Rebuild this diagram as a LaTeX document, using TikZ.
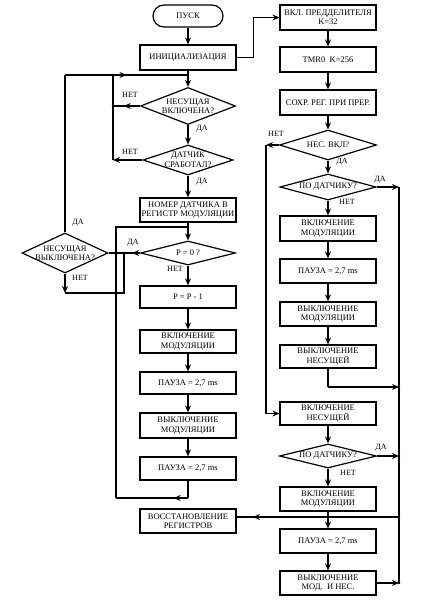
\documentclass[tikz,border=0pt]{standalone}
\usepackage{fontspec}
\setmainfont{Liberation Serif}
\usetikzlibrary{shapes.geometric,arrows.meta,decorations.markings}
\begin{document}
\begin{tikzpicture}[x=1pt,y=-1pt,
  font=\fontsize{8.5}{9.5}\selectfont,
  line width=1.2pt,
  box/.style={draw, minimum width=96pt, minimum height=24pt, align=center, inner sep=1pt},
  dia/.style={draw, diamond, inner sep=0pt},
  term/.style={draw, rounded corners=11pt, minimum width=70pt, minimum height=22pt},
  arr/.style={-{Stealth[length=7pt,width=6pt]}},
  midarr/.style={postaction={decorate},decoration={markings,mark=at position #1 with {\arrow{Stealth[length=7pt,width=6pt]}}}},
  lbl/.style={font=\fontsize{8}{9}\selectfont, inner sep=0pt},
  jdot/.style={circle, fill, inner sep=0pt, minimum size=2.8pt}
]
\useasboundingbox (0,0) rectangle (440,602);

% ---------- left column ----------
\node[term] (start) at (188,16) {ПУСК};
\node[box, minimum height=25pt] (init) at (188,57.5) {ИНИЦИАЛИЗАЦИЯ};
\node[dia, minimum width=95pt, minimum height=37pt,
  label={[align=center]center:{НЕСУЩАЯ\\ВКЛЮЧЕНА?}}] (d1) at (188,106) {};
\node[dia, minimum width=90pt, minimum height=30pt,
  label={[align=center]center:{ДАТЧИК\\СРАБОТАЛ?}}] (d2) at (188,160) {};
\node[box] (nomer) at (188,210) {НОМЕР ДАТЧИКА В\\РЕГИСТР МОДУЛЯЦИИ};
\node[dia, minimum width=95pt, minimum height=24pt,
  label={center:{P = 0 ?}}] (d3) at (188,253) {};
\node[dia, minimum width=86pt, minimum height=40pt,
  label={[align=center]center:{НЕСУЩАЯ\\ВЫКЛЮЧЕНА?}}] (d4) at (65,253) {};
\node[box, minimum height=22pt] (pp) at (188,297) {P = P - 1};
\node[box, minimum height=23pt] (vmA) at (188,341.5) {ВКЛЮЧЕНИЕ\\МОДУЛЯЦИИ};
\node[box, minimum height=22pt] (paA) at (188,383) {ПАУЗА = 2,7 ms};
\node[box, minimum height=25pt] (vkA) at (188,425.5) {ВЫКЛЮЧЕНИЕ\\МОДУЛЯЦИИ};
\node[box, minimum height=23pt] (paB) at (188,468.5) {ПАУЗА = 2,7 ms};
\node[box] (vos) at (188,521) {ВОССТАНОВЛЕНИЕ\\РЕГИСТРОВ};

% ---------- right column ----------
\node[box, minimum height=25pt] (pred) at (328,17.5) {ВКЛ. ПРЕДДЕЛИТЕЛЯ\\K=32};
\node[box, minimum height=25pt] (tmr) at (328,59.5) {TMR0\ \ K=256};
\node[box, minimum height=25pt] (sohr) at (328,102.5) {СОХР. РЕГ. ПРИ ПРЕР.};
\node[dia, minimum width=97pt, minimum height=30pt,
  label={center:{НЕС. ВКЛ?}}] (d5) at (328,145) {};
\node[dia, minimum width=96pt, minimum height=26pt,
  label={center:{ПО ДАТЧИКУ?}}] (d6) at (328,187) {};
\node[box, minimum height=25pt] (vmB) at (328,228.5) {ВКЛЮЧЕНИЕ\\МОДУЛЯЦИИ};
\node[box] (paC) at (328,271) {ПАУЗА = 2,7 ms};
\node[box] (vkB) at (328,314) {ВЫКЛЮЧЕНИЕ\\МОДУЛЯЦИИ};
\node[box, minimum height=23pt] (vkn) at (328,356.5) {ВЫКЛЮЧЕНИЕ\\НЕСУЩЕЙ};
\node[box, minimum height=23pt] (vknes) at (328,413.5) {ВКЛЮЧЕНИЕ\\НЕСУЩЕЙ};
\node[dia, minimum width=97pt, minimum height=24pt,
  label={center:{ПО ДАТЧИКУ?}}] (d7) at (328,456) {};
\node[box] (vmC) at (328,499) {ВКЛЮЧЕНИЕ\\МОДУЛЯЦИИ};
\node[box] (paD) at (328,541) {ПАУЗА = 2,7 ms};
\node[box] (vmn) at (328,583) {ВЫКЛЮЧЕНИЕ\\МОД.\ \ И НЕС.};

% ---------- helper coordinates ----------
\coordinate (j1) at (188,75);
\coordinate (a75) at (65,75);
\coordinate (b75) at (113,75);
\coordinate (b106) at (113,106);
\coordinate (b160) at (113,160);
\coordinate (j2) at (188,227);
\coordinate (c124a) at (124,253);
\coordinate (c124b) at (124,293);
\coordinate (c65b) at (65,293);
\coordinate (c188) at (188,498);
\coordinate (c116b) at (116,498);
\coordinate (c116a) at (116,227);
\coordinate (c266) at (266,145);
\coordinate (r187) at (399,187);
\coordinate (c387) at (328,387);
\coordinate (r387) at (399,387);
\coordinate (r456) at (399,456);
\coordinate (r517) at (399,517);
\coordinate (r583) at (399,583);

% ---------- left connectors ----------
\draw[arr] (start) -- (init);
\draw[arr] (init.south) -- (d1.north);
\draw[midarr=0.5] (a75) -- (j1);
\draw[midarr=0.6] (d1.west) -- (b106);
\draw[arr] (d2.west) -- (b160);
\draw (b160) -- (b75);
\draw[arr] (d1.south) -- (d2.north);
\draw[arr] (d2.south) -- (nomer.north);
\draw[arr] (nomer.south) -- (d3.north);
\draw[midarr=0.25] (d3.west) -- (d4.east);
\draw (d4.north) -- (a75);
\draw[arr] (d4.south) -- (c65b);
\draw (c65b) -- (c124b) -- (c124a);
\draw[arr] (d3.south) -- (pp.north);
\draw[arr] (pp) -- (vmA);
\draw[arr] (vmA) -- (paA);
\draw[arr] (paA) -- (vkA);
\draw[arr] (vkA) -- (paB);
\draw (paB.south) -- (c188);
\draw[midarr=0.2] (c188) -- (c116b);
\draw (c116b) -- (c116a) -- (j2);
\node[jdot] at (j1) {};
\node[jdot] at (b75) {};
\node[jdot] at (b106) {};
\node[jdot] at (c124a) {};
\node[jdot] at (j2) {};

% ---------- right connectors ----------
\draw[arr] (init.east) -- ++(17,0) |- (pred.west);
\draw[arr] (pred) -- (tmr);
\draw[arr] (tmr) -- (sohr);
\draw[arr] (sohr) -- (d5.north);
\draw[arr] (d5.south) -- (d6.north);
\draw[arr] (d5.west) -- (c266);
\draw[arr] (c266) |- (vknes.west);
\draw[arr] (d6.east) -- (r187);
\draw (r187) -- (r583);
\draw[arr] (d6.south) -- (vmB.north);
\draw[arr] (vmB) -- (paC);
\draw[arr] (paC) -- (vkB);
\draw[arr] (vkB) -- (vkn);
\draw (vkn.south) -- (c387);
\draw[arr] (c387) -- (r387);
\draw[arr] (vknes) -- (d7.north);
\draw[arr] (d7.east) -- (r456);
\draw[arr] (d7.south) -- (vmC.north);
\draw[arr] (vmC) -- (paD);
\draw[arr] (paD) -- (vmn);
\draw[arr] (vmn.east) -- (r583);
\draw[midarr=0.9] (r517) -- (r517 -| vos.east);
\node[jdot] at (r387) {};
\node[jdot] at (r456) {};
\node[jdot] at (r517) {};
\node[jdot] at (r583) {};

% ---------- branch labels ----------
\node[lbl] (l1) at (130,95) {НЕТ};
\node[lbl] (l2) at (202,129) {ДА};
\node[lbl] (l3) at (130,152) {НЕТ};
\node[lbl] (l4) at (202,182) {ДА};
\node[lbl] (l5) at (78,223) {ДА};
\node[lbl] (l6) at (133,243) {ДА};
\node[lbl] (l7) at (80,278) {НЕТ};
\node[lbl] (l8) at (175,269) {НЕТ};
\node[lbl] (l9) at (276,134) {НЕТ};
\node[lbl] (l10) at (342,162) {ДА};
\node[lbl] (l11) at (380,180) {ДА};
\node[lbl] (l12) at (347,202) {НЕТ};
\node[lbl] (l13) at (381,448) {ДА};
\node[lbl] (l14) at (348,473) {НЕТ};
\end{tikzpicture}
\end{document}
